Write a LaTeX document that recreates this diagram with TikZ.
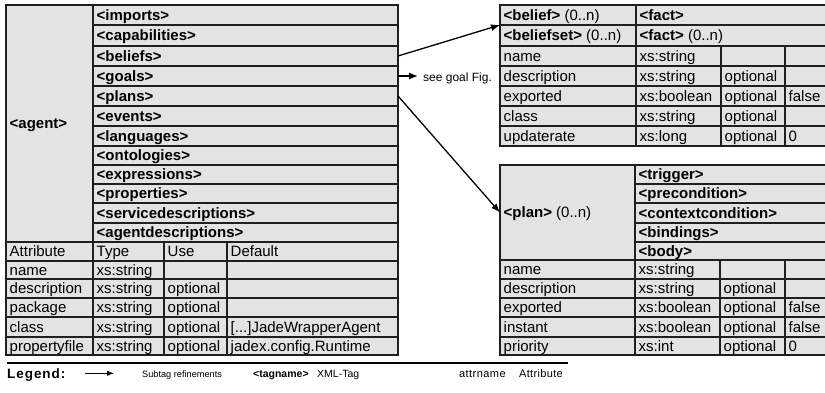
\documentclass[tikz,border=0pt]{standalone}
\usepackage{fontspec}
\setmainfont{Liberation Sans}
\usetikzlibrary{arrows.meta}

\tikzset{
  cellbox/.style={draw=black!88, fill=black!11, line width=1.6pt, rectangle,
    inner sep=0pt, outer sep=0pt},
  celltext/.style={inner sep=0pt, text=black, font=\fontsize{15}{18}\selectfont},
  tagtext/.style={inner sep=0pt, text=black, font=\fontsize{15}{18}\selectfont\bfseries},
  link/.style={line width=1.3pt, -{Latex[length=9pt,width=7pt]}},
  legendarrow/.style={line width=0.9pt, -{Latex[length=7pt,width=5.5pt]}},
  legendtext/.style={inner sep=0pt, anchor=base west},
}

% one table cell: name, x1, y1, x2, y2, text style, text
\newcommand\tcell[7]{%
  \node[cellbox, minimum width={#4-#2}, minimum height={#5-#3}] (#1)
    at ({(#2+#4)/2},{(#3+#5)/2}) {};
  \node[#6, anchor=base west] (#1-t) at ({#2+3.5},{(#3+#5)/2+5}) {#7};
}

\begin{document}
\begin{tikzpicture}[x=1pt,y=-1pt]
\clip (0,0) rectangle (825,392);
\fill[white] (0,0) rectangle (825,392);

% ---- agent element: subtags ----
\tcell{agent}{6}{5}{93}{242}{tagtext}{<agent>}
\tcell{imports}{93}{5}{398}{25}{tagtext}{<imports>}
\tcell{capabilities}{93}{25}{398}{46}{tagtext}{<capabilities>}
\tcell{beliefs}{93}{46}{398}{66}{tagtext}{<beliefs>}
\tcell{goals}{93}{66}{398}{86}{tagtext}{<goals>}
\tcell{plans}{93}{86}{398}{106}{tagtext}{<plans>}
\tcell{events}{93}{106}{398}{126}{tagtext}{<events>}
\tcell{languages}{93}{126}{398}{146}{tagtext}{<languages>}
\tcell{ontologies}{93}{146}{398}{165}{tagtext}{<ontologies>}
\tcell{expressions}{93}{165}{398}{184}{tagtext}{<expressions>}
\tcell{properties}{93}{184}{398}{203}{tagtext}{<properties>}
\tcell{servicedescriptions}{93}{203}{398}{223}{tagtext}{<servicedescriptions>}
\tcell{agentdescriptions}{93}{223}{398}{242}{tagtext}{<agentdescriptions>}

% ---- agent element: attributes ----
\tcell{ah1}{6}{242}{93}{261}{celltext}{Attribute}
\tcell{ah2}{93}{242}{164}{261}{celltext}{Type}
\tcell{ah3}{164}{242}{227}{261}{celltext}{Use}
\tcell{ah4}{227}{242}{398}{261}{celltext}{Default}

\tcell{an1}{6}{261}{93}{279}{celltext}{name}
\tcell{an2}{93}{261}{164}{279}{celltext}{xs:string}
\tcell{an3}{164}{261}{227}{279}{celltext}{}
\tcell{an4}{227}{261}{398}{279}{celltext}{}

\tcell{ad1}{6}{279}{93}{298}{celltext}{description}
\tcell{ad2}{93}{279}{164}{298}{celltext}{xs:string}
\tcell{ad3}{164}{279}{227}{298}{celltext}{optional}
\tcell{ad4}{227}{279}{398}{298}{celltext}{}

\tcell{ap1}{6}{298}{93}{317}{celltext}{package}
\tcell{ap2}{93}{298}{164}{317}{celltext}{xs:string}
\tcell{ap3}{164}{298}{227}{317}{celltext}{optional}
\tcell{ap4}{227}{298}{398}{317}{celltext}{}

\tcell{ac1}{6}{317}{93}{337}{celltext}{class}
\tcell{ac2}{93}{317}{164}{337}{celltext}{xs:string}
\tcell{ac3}{164}{317}{227}{337}{celltext}{optional}
\tcell{ac4}{227}{317}{398}{337}{celltext}{[...]JadeWrapperAgent}

\tcell{af1}{6}{337}{93}{355}{celltext}{propertyfile}
\tcell{af2}{93}{337}{164}{355}{celltext}{xs:string}
\tcell{af3}{164}{337}{227}{355}{celltext}{optional}
\tcell{af4}{227}{337}{398}{355}{celltext}{jadex.config.Runtime}

% ---- belief / beliefset ----
\tcell{bl1}{500}{5}{636}{25}{tagtext}{<belief>\mdseries\ (0..n)}
\tcell{bl2}{636}{5}{840}{25}{tagtext}{<fact>}
\tcell{bs1}{500}{25}{636}{46}{tagtext}{<beliefset>\mdseries\ (0..n)}
\tcell{bs2}{636}{25}{840}{46}{tagtext}{<fact>\mdseries\ (0..n)}

\tcell{bn1}{500}{46}{636}{66}{celltext}{name}
\tcell{bn2}{636}{46}{721}{66}{celltext}{xs:string}
\tcell{bn3}{721}{46}{785}{66}{celltext}{}
\tcell{bn4}{785}{46}{840}{66}{celltext}{}

\tcell{bd1}{500}{66}{636}{86}{celltext}{description}
\tcell{bd2}{636}{66}{721}{86}{celltext}{xs:string}
\tcell{bd3}{721}{66}{785}{86}{celltext}{optional}
\tcell{bd4}{785}{66}{840}{86}{celltext}{}

\tcell{be1}{500}{86}{636}{106}{celltext}{exported}
\tcell{be2}{636}{86}{721}{106}{celltext}{xs:boolean}
\tcell{be3}{721}{86}{785}{106}{celltext}{optional}
\tcell{be4}{785}{86}{840}{106}{celltext}{false}

\tcell{bc1}{500}{106}{636}{126}{celltext}{class}
\tcell{bc2}{636}{106}{721}{126}{celltext}{xs:string}
\tcell{bc3}{721}{106}{785}{126}{celltext}{optional}
\tcell{bc4}{785}{106}{840}{126}{celltext}{}

\tcell{bu1}{500}{126}{636}{146}{celltext}{updaterate}
\tcell{bu2}{636}{126}{721}{146}{celltext}{xs:long}
\tcell{bu3}{721}{126}{785}{146}{celltext}{optional}
\tcell{bu4}{785}{126}{840}{146}{celltext}{0}

% ---- plan ----
\tcell{plan}{500}{165}{635}{260}{tagtext}{<plan>\mdseries\ (0..n)}
\tcell{trigger}{635}{165}{840}{184}{tagtext}{<trigger>}
\tcell{precondition}{635}{184}{840}{203}{tagtext}{<precondition>}
\tcell{contextcondition}{635}{203}{840}{223}{tagtext}{<contextcondition>}
\tcell{bindings}{635}{223}{840}{242}{tagtext}{<bindings>}
\tcell{body}{635}{242}{840}{260}{tagtext}{<body>}

\tcell{pn1}{500}{260}{635}{279}{celltext}{name}
\tcell{pn2}{635}{260}{720}{279}{celltext}{xs:string}
\tcell{pn3}{720}{260}{785}{279}{celltext}{}
\tcell{pn4}{785}{260}{840}{279}{celltext}{}

\tcell{pd1}{500}{279}{635}{298}{celltext}{description}
\tcell{pd2}{635}{279}{720}{298}{celltext}{xs:string}
\tcell{pd3}{720}{279}{785}{298}{celltext}{optional}
\tcell{pd4}{785}{279}{840}{298}{celltext}{}

\tcell{pe1}{500}{298}{635}{317}{celltext}{exported}
\tcell{pe2}{635}{298}{720}{317}{celltext}{xs:boolean}
\tcell{pe3}{720}{298}{785}{317}{celltext}{optional}
\tcell{pe4}{785}{298}{840}{317}{celltext}{false}

\tcell{pi1}{500}{317}{635}{337}{celltext}{instant}
\tcell{pi2}{635}{317}{720}{337}{celltext}{xs:boolean}
\tcell{pi3}{720}{317}{785}{337}{celltext}{optional}
\tcell{pi4}{785}{317}{840}{337}{celltext}{false}

\tcell{pp1}{500}{337}{635}{355}{celltext}{priority}
\tcell{pp2}{635}{337}{720}{355}{celltext}{xs:int}
\tcell{pp3}{720}{337}{785}{355}{celltext}{optional}
\tcell{pp4}{785}{337}{840}{355}{celltext}{0}

% ---- refinement arrows ----
\draw[link] (beliefs.east) -- (bl1.south west);
\coordinate (goalend) at (418,76);
\draw[link] (goals.east) -- (goalend);
\node[legendtext, font=\fontsize{12}{14}\selectfont] (seegoal) at (423,81.5) {see goal Fig.};
\draw[link] (plans.east) -- (plan.west);

% ---- legend ----
\draw[line width=1.5pt] (7,363) -- (568,363);
\node[legendtext, font=\fontsize{13.5}{16}\selectfont\bfseries\addfontfeature{LetterSpace=7}] (legend) at (7,378) {Legend:};
\coordinate (lgA) at (85,373.3);
\coordinate (lgB) at (114,373.3);
\draw[legendarrow] (lgA) -- (lgB);
\node[legendtext, font=\fontsize{9.2}{11}\selectfont] (lgsub) at (142,377) {Subtag refinements};
\node[legendtext, font=\fontsize{10.5}{12}\selectfont\bfseries] (lgtag) at (253,377) {<tagname>};
\node[legendtext, font=\fontsize{10.5}{12}\selectfont] (lgxml) at (317,377) {XML-Tag};
\node[legendtext, font=\fontsize{11}{13}\selectfont\addfontfeature{LetterSpace=4}] (lgattr) at (459,377) {attrname};
\node[legendtext, font=\fontsize{11}{13}\selectfont\addfontfeature{LetterSpace=3}] (lgattrb) at (519,377) {Attribute};
\end{tikzpicture}
\end{document}
